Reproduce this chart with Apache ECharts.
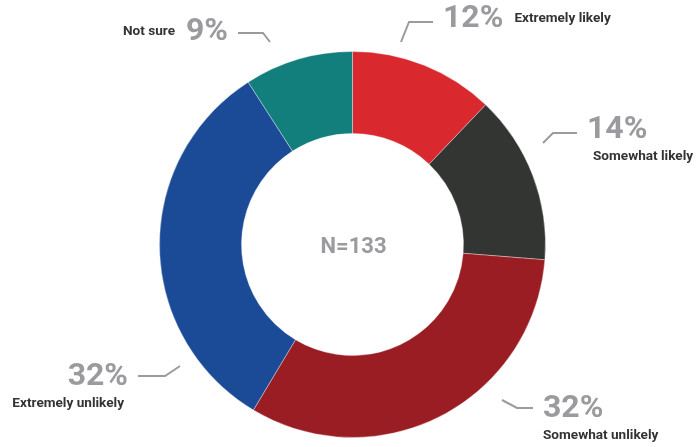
<!DOCTYPE html>
<html>
<head>
<meta charset="utf-8">
<style>
  html, body { margin: 0; padding: 0; background: #ffffff; }
  #chart { width: 699px; height: 447px; }
</style>
<script src="https://cdn.jsdelivr.net/npm/echarts@6/dist/echarts.min.js"></script>
</head>
<body>
<div id="chart"></div>
<script>
// Survey responses (percent of respondents), drawn clockwise from 12 o'clock
const categories = ['Extremely likely', 'Somewhat likely', 'Somewhat unlikely', 'Extremely unlikely', 'Not sure'];
const shares = [12, 14, 32, 32, 9];
const sampleSize = 133;

const sliceColors = ['#d9292f', '#333533', '#9a1d23', '#1b4a97', '#137f7d'];

// Where each label sits and how its leader line bends
const labelSpots = [
  { x: 443, y: 19, align: 'left', verticalAlign: 'middle', line: [[401, 42], [409, 22], [433, 22]], style: 'inline' },
  { x: 587, y: 113, align: 'left', verticalAlign: 'top', line: [[543, 143], [553, 133], [577, 133]], style: 'stackedIndent' },
  { x: 543, y: 392, align: 'left', verticalAlign: 'top', line: [[502, 400], [517, 408], [533, 408]], style: 'stacked' },
  { x: 128, y: 360, align: 'right', verticalAlign: 'top', line: [[180, 366], [165, 376], [138, 376]], style: 'stackedRight' },
  { x: 228, y: 32, align: 'right', verticalAlign: 'middle', line: [[270, 42], [263, 33], [238, 33]], style: 'inlineLeft' }
];

function labelText(params) {
  const spot = labelSpots[params.dataIndex];
  const pct = '{pct|' + params.value + '%}';
  switch (spot.style) {
    case 'inline': return pct + '{gap|}' + '{name|' + params.name + '}';
    case 'inlineLeft': return '{name|' + params.name + '}' + '{gap|}' + pct;
    case 'stackedIndent': return pct + '\n{nameIndent|' + params.name + '}';
    case 'stackedRight': return pct + '\n{nameRight|' + params.name + '}';
    default: return pct + '\n{name|' + params.name + '}';
  }
}

const nameFont = { fontFamily: 'Roboto', fontWeight: 'bold', fontSize: 13.6, color: '#333333', lineHeight: 20 };

const chart = echarts.init(document.getElementById('chart'), null, { renderer: 'canvas' });

chart.setOption({
  animation: false,
  backgroundColor: '#ffffff',
  graphic: [{
    type: 'text',
    x: 353.5,
    y: 247,
    style: {
      text: 'N=' + sampleSize,
      fill: '#9b9b9f',
      font: 'bold 22px Roboto',
      textAlign: 'center',
      textVerticalAlign: 'middle'
    }
  }],
  series: [{
    type: 'pie',
    center: [352.5, 244.5],
    radius: [111, 193],
    startAngle: 90,
    clockwise: true,
    avoidLabelOverlap: false,
    itemStyle: { borderColor: 'rgba(255,255,255,0.6)', borderWidth: 0.6 },
    label: {
      show: true,
      position: 'outside',
      formatter: labelText,
      fontFamily: 'Roboto',
      rich: {
        pct: { fontFamily: 'Roboto', fontWeight: 'bold', fontSize: 32, color: '#9b9b9f', lineHeight: 34 },
        gap: { width: 11 },
        name: Object.assign({}, nameFont),
        nameIndent: Object.assign({ padding: [0, 0, 0, 6] }, nameFont),
        nameRight: Object.assign({ padding: [0, 4, 0, 0] }, nameFont)
      }
    },
    labelLine: {
      show: true,
      length: 10,
      length2: 10,
      lineStyle: { color: '#9b9b9f', width: 2 }
    },
    labelLayout: function (params) {
      const spot = labelSpots[params.dataIndex];
      return {
        x: spot.x,
        y: spot.y,
        align: spot.align,
        verticalAlign: spot.verticalAlign,
        labelLinePoints: spot.line
      };
    },
    emphasis: { disabled: true },
    data: categories.map(function (name, i) {
      return { name: name, value: shares[i], itemStyle: { color: sliceColors[i] } };
    })
  }]
});
</script>
</body>
</html>
